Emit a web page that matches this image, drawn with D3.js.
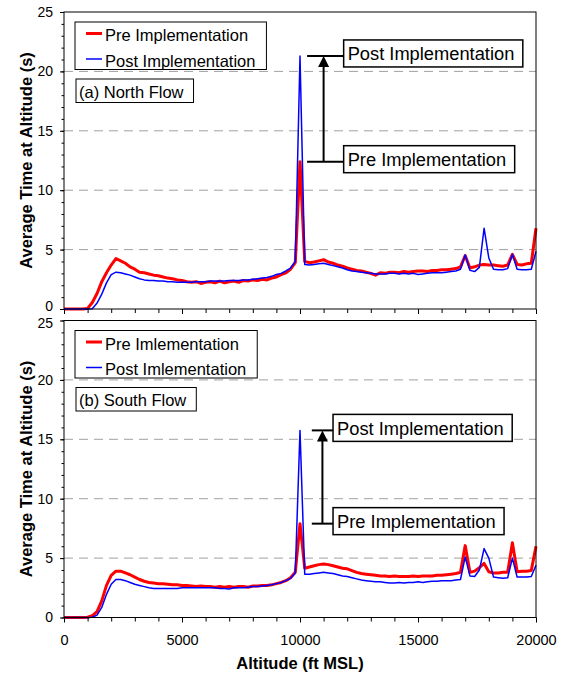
<!DOCTYPE html>
<html lang="en">
<head>
  <meta charset="UTF-8" />
  <title>Average Time at Altitude</title>
  <script src="https://d3js.org/d3.v7.min.js"></script>
  <style>
    body { margin: 0; background: #fff; font-family: 'Liberation Sans', Arial, sans-serif; }
    svg { display: block; }
    .tick text { font-size: 14.5px; fill: #000; }
    .tick line { stroke: #000; }
    .grid line { stroke: #a0a0a0; stroke-dasharray: 9,6; }
  </style>
</head>
<body>
  <svg></svg>

  <script>
    // altitude grid (ft MSL), one reading every 200 ft
    const altitudes = d3.range(0, 20001, 200);

    // (a) North Flow
    const northPre = [
      0, 0, 0, 0, 0, 0.05, 0.55, 1.3, 2.3, 3.05,
      3.7, 4.25, 4.05, 3.85, 3.55, 3.35, 3.1, 3.05, 2.95, 2.85,
      2.8, 2.7, 2.6, 2.55, 2.45, 2.4, 2.3, 2.25, 2.3, 2.15,
      2.25, 2.3, 2.2, 2.35, 2.2, 2.3, 2.35, 2.25, 2.4, 2.35,
      2.45, 2.4, 2.5, 2.45, 2.6, 2.7, 2.9, 3.05, 3.35, 3.9,
      12.4, 4.0, 3.9, 3.95, 4.05, 4.15, 3.95, 3.85, 3.7, 3.6,
      3.45, 3.35, 3.25, 3.2, 3.1, 3.0, 2.85, 3.05, 3.0, 3.1,
      3.1, 3.05, 3.15, 3.1, 3.15, 3.2, 3.2, 3.15, 3.25, 3.25,
      3.3, 3.3, 3.35, 3.4, 3.55, 4.5, 3.45, 3.55, 3.7, 3.75,
      3.7, 3.7, 3.65, 3.6, 3.7, 4.6, 3.75, 3.7, 3.8, 3.85,
      6.8
    ];
    const northPost = [
      0, 0, 0, 0, 0, 0, 0.02, 0.5, 1.25, 2.2,
      2.9, 3.1, 3.05, 2.95, 2.85, 2.7, 2.55, 2.45, 2.4, 2.4,
      2.35, 2.35, 2.3, 2.3, 2.25, 2.25, 2.25, 2.25, 2.3, 2.3,
      2.3, 2.35, 2.35, 2.35, 2.35, 2.4, 2.4, 2.4, 2.45, 2.45,
      2.5, 2.55, 2.6, 2.65, 2.75, 2.9, 3.0, 3.2, 3.45, 4.0,
      21.3, 3.75, 3.7, 3.75, 3.8, 3.85, 3.75, 3.65, 3.55, 3.45,
      3.3, 3.2, 3.15, 3.1, 3.05, 3.0, 2.95, 2.95, 2.95, 3.0,
      3.0, 2.95, 3.0, 2.95, 3.0, 2.9, 2.95, 3.0, 3.05, 3.05,
      3.05, 3.1, 3.15, 3.2, 3.35, 4.55, 3.25, 3.15, 3.5, 6.8,
      4.3, 3.35, 3.3, 3.3, 3.4, 4.6, 3.35, 3.3, 3.3, 3.35,
      4.85
    ];

    // (b) South Flow
    const southPre = [
      0, 0, 0, 0, 0, 0.02, 0.15, 0.5, 1.4, 2.7,
      3.55, 3.9, 3.9, 3.75, 3.6, 3.4, 3.2, 3.05, 2.95, 2.9,
      2.85, 2.85, 2.8, 2.75, 2.75, 2.7, 2.7, 2.65, 2.6, 2.65,
      2.6, 2.6, 2.55, 2.6, 2.55, 2.6, 2.55, 2.6, 2.6, 2.55,
      2.65, 2.65, 2.7, 2.7, 2.75, 2.85, 2.95, 3.1, 3.35, 3.8,
      7.9, 4.15, 4.25, 4.35, 4.45, 4.5, 4.45, 4.35, 4.25, 4.15,
      4.1, 3.95, 3.8, 3.7, 3.65, 3.6, 3.55, 3.5, 3.5, 3.45,
      3.5, 3.45, 3.45, 3.45, 3.5, 3.45, 3.5, 3.5, 3.5, 3.55,
      3.55, 3.6, 3.65, 3.7, 3.8, 6.05, 3.8, 3.9, 4.2, 4.55,
      3.85, 3.75, 3.75, 3.8, 3.8, 6.3, 3.85, 3.9, 3.9, 3.95,
      6.0
    ];
    const southPost = [
      0, 0, 0, 0, 0, 0, 0.02, 0.2, 0.85, 1.95,
      2.8, 3.2, 3.2, 3.1, 2.95, 2.8, 2.7, 2.6, 2.5, 2.45,
      2.45, 2.45, 2.45, 2.45, 2.45, 2.5, 2.5, 2.5, 2.5, 2.5,
      2.5, 2.5, 2.5, 2.45, 2.45, 2.4, 2.5, 2.5, 2.5, 2.55,
      2.6, 2.6, 2.65, 2.7, 2.75, 2.85, 2.95, 3.1, 3.3, 3.75,
      15.75, 3.65, 3.65, 3.7, 3.75, 3.8, 3.75, 3.7, 3.6, 3.5,
      3.45, 3.35, 3.25, 3.15, 3.1, 3.05, 3.0, 3.0, 2.95, 2.9,
      2.9, 2.95, 2.9, 2.95, 2.95, 3.0, 2.95, 3.0, 3.05, 3.05,
      3.1, 3.1, 3.1, 3.15, 3.2, 5.1, 3.5, 3.45, 4.0, 5.8,
      5.0, 3.4, 3.35, 3.3, 3.35, 5.0, 3.4, 3.4, 3.4, 3.45,
      4.4
    ];

    const yMajor = [0, 5, 10, 15, 20, 25];
    const gridValues = [5, 10, 15, 20];
    const xMajor = [0, 5000, 10000, 15000, 20000];

    const panels = [
      { top: 12, pre: northPre, post: northPost, flow: "(a) North Flow",
        legend: ["Pre Implementation", "Post Implementation"],
        lineFrom: 10300, arrowAt: 11000, boxAt: 11850, xLabels: false },
      { top: 320.5, pre: southPre, post: southPost, flow: "(b) South Flow",
        legend: ["Pre Imlementation", "Post Imlementation"],
        lineFrom: 10500, arrowAt: 10950, boxAt: 11400, xLabels: true }
    ];

    const W = 565, H = 675, panelH = 297;
    const x = d3.scaleLinear().domain([0, 20000]).range([64, 536]);
    const font = "'Liberation Sans', Arial, sans-serif";

    const svg = d3.select("svg").attr("width", W).attr("height", H);

    panels.forEach((p, pi) => {
      const y = d3.scaleLinear().domain([0, 25]).range([p.top + panelH, p.top]);
      const g = svg.append("g");

      // dashed grid
      g.append("g").attr("class", "grid")
        .selectAll("line").data(gridValues).join("line")
        .attr("x1", x(0)).attr("x2", x(20000))
        .attr("y1", d => y(d)).attr("y2", d => y(d));

      const line = d3.line().x((d, i) => x(altitudes[i])).y(d => y(d));

      g.append("path").datum(p.pre)
        .attr("d", line).attr("fill", "none")
        .attr("stroke", "#ff0000").attr("stroke-width", 3)
        .attr("stroke-linejoin", "round");
      g.append("path").datum(p.post)
        .attr("d", line).attr("fill", "none")
        .attr("stroke", "#0000ff").attr("stroke-width", 1.5)
        .attr("stroke-linejoin", "round");

      // frame
      g.append("rect")
        .attr("x", x(0)).attr("y", y(25))
        .attr("width", x(20000) - x(0)).attr("height", y(0) - y(25))
        .attr("fill", "none").attr("stroke", "#000").attr("stroke-width", 1);

      // y axis
      g.append("g").attr("transform", `translate(${x(0)},0)`)
        .call(d3.axisLeft(y).tickValues(d3.range(0, 26, 1)).tickSize(2.5).tickFormat(""))
        .call(a => a.select(".domain").remove());
      g.append("g").attr("transform", `translate(${x(0)},0)`)
        .call(d3.axisLeft(y).tickValues(yMajor).tickSize(4).tickPadding(7))
        .call(a => a.select(".domain").remove())
        .selectAll("text").style("font-family", font).style("font-size", "14px")
        // keep the "0" of the upper panel and the "25" of the lower one apart
        .attr("y", d => (pi === 0 && d === 0) ? -2.5 : (pi === 1 && d === 25) ? 2.5 : 0);

      // x axis
      g.append("g").attr("transform", `translate(0,${y(0)})`)
        .call(d3.axisBottom(x).tickValues(d3.range(0, 20001, 1000)).tickSize(4).tickFormat(""))
        .call(a => a.select(".domain").remove());
      g.append("g").attr("transform", `translate(0,${y(0)})`)
        .call(d3.axisBottom(x).tickValues(xMajor).tickSize(5).tickPadding(12.5)
          .tickFormat(p.xLabels ? d3.format("d") : ""))
        .call(a => a.select(".domain").remove())
        .selectAll("text").style("font-family", font);

      // y title
      g.append("text")
        .attr("transform", `translate(32,${(y(0) + y(25)) / 2}) rotate(-90)`)
        .attr("text-anchor", "middle")
        .style("font-family", font).style("font-size", "16.5px").style("font-weight", "bold")
        .text("Average Time at Altitude (s)");

      // legend
      const lg = g.append("g");
      const lbox = lg.append("rect")
        .attr("x", 75).attr("y", p.top + 10).attr("height", 47.5)
        .attr("fill", "#fff").attr("stroke", "#000").attr("stroke-width", 1);
      let maxLen = 0;
      [["#ff0000", 3], ["#0000ff", 1.5]].forEach(([c, w], i) => {
        const ly = p.top + 21.5 + i * 25.5;
        lg.append("line").attr("x1", 86).attr("x2", 102).attr("y1", ly).attr("y2", ly)
          .attr("stroke", c).attr("stroke-width", w);
        const t = lg.append("text").attr("x", 105).attr("y", ly + 7.5)
          .style("font-family", font).style("font-size", "16.5px")
          .text(p.legend[i]);
        maxLen = Math.max(maxLen, t.node().getComputedTextLength());
      });
      lbox.attr("width", 105 + maxLen + 11 - 75);

      // flow label
      const fb = g.append("rect")
        .attr("x", 76).attr("y", p.top + 67).attr("height", 23.5)
        .attr("fill", "#fff").attr("stroke", "#000").attr("stroke-width", 1);
      const ft = g.append("text").attr("x", 79).attr("y", p.top + 85.5)
        .style("font-family", font).style("font-size", "16.5px")
        .text(p.flow);
      fb.attr("width", ft.node().getComputedTextLength() + 13);

      // annotation: peak before and after
      const levels = [d3.max(p.pre), d3.max(p.post)];
      const names = ["Pre Implementation", "Post Implementation"];
      levels.forEach((v, i) => {
        const ly = y(v);
        g.append("line").attr("x1", x(p.lineFrom)).attr("x2", x(p.boxAt))
          .attr("y1", ly).attr("y2", ly).attr("stroke", "#000").attr("stroke-width", 2);
        const b = g.append("rect").attr("x", x(p.boxAt)).attr("y", ly - 16).attr("height", 27)
          .attr("fill", "#fff").attr("stroke", "#000").attr("stroke-width", 1.5);
        const t = g.append("text").attr("x", x(p.boxAt) + 4).attr("y", ly - 16 + 20.5)
          .style("font-family", font).style("font-size", "18.3px")
          .text(names[i]);
        b.attr("width", t.node().getComputedTextLength() + 12.5);
      });
      const ax = x(p.arrowAt), yTop = y(levels[1]), yBot = y(levels[0]);
      g.append("line").attr("x1", ax).attr("x2", ax).attr("y1", yBot).attr("y2", yTop + 8)
        .attr("stroke", "#000").attr("stroke-width", 2);
      g.append("path")
        .attr("d", `M${ax},${yTop} L${ax - 5.5},${yTop + 11} L${ax + 5.5},${yTop + 11} Z`)
        .attr("fill", "#000");
    });

    // x title
    svg.append("text")
      .attr("x", x(10000)).attr("y", 669)
      .attr("text-anchor", "middle")
      .style("font-family", font).style("font-size", "16.5px").style("font-weight", "bold")
      .text("Altitude (ft MSL)");
  </script>
</body>
</html>
